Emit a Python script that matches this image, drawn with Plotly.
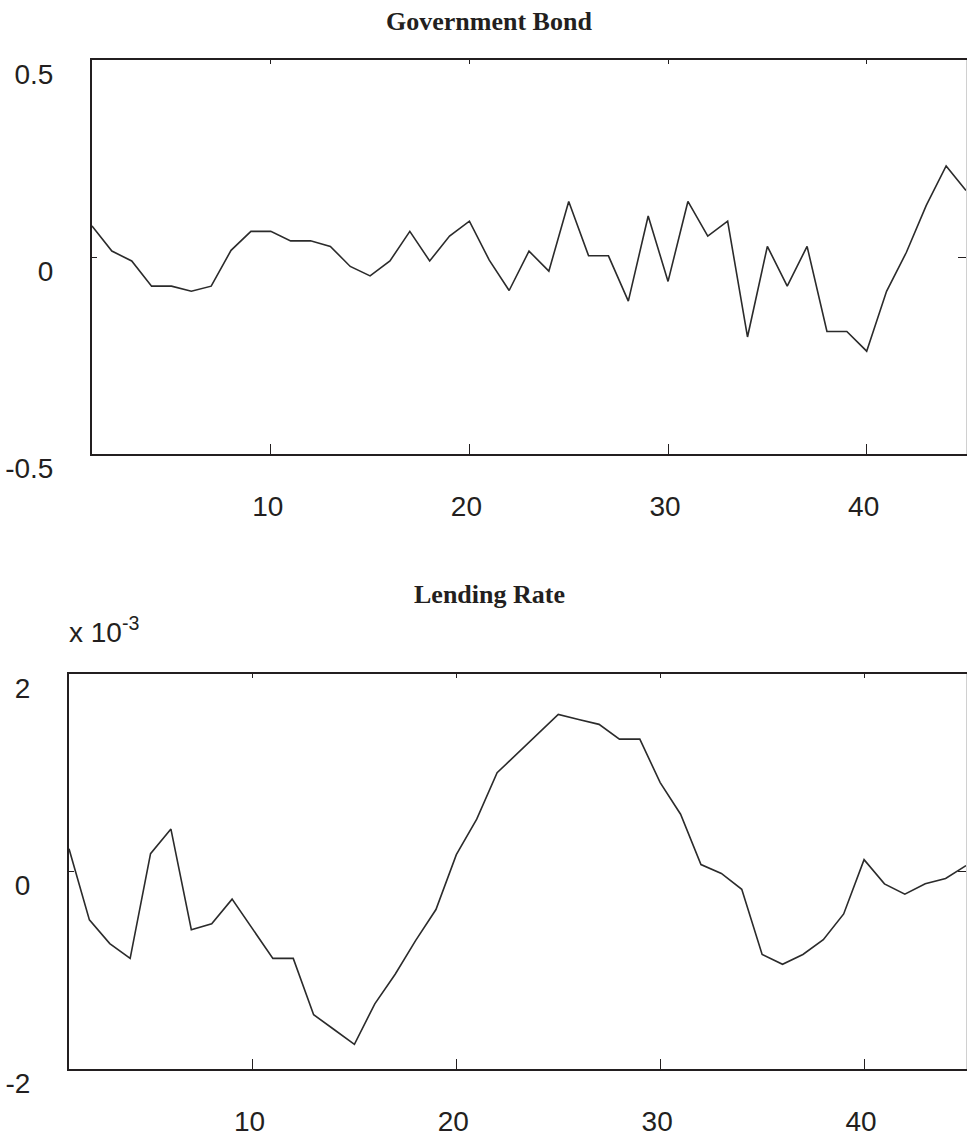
import plotly.graph_objects as go

periods = list(range(1, 46))
government_bond = [0.079, 0.015, -0.010, -0.074, -0.074, -0.087, -0.074, 0.017, 0.065, 0.065,
                   0.041, 0.041, 0.027, -0.024, -0.048, -0.010, 0.065, -0.010, 0.053, 0.091,
                   -0.008, -0.085, 0.015, -0.036, 0.141, 0.003, 0.003, -0.112, 0.104, -0.062,
                   0.141, 0.053, 0.091, -0.203, 0.027, -0.074, 0.027, -0.189, -0.189, -0.239,
                   -0.087, 0.012, 0.131, 0.231, 0.169]
# lending rate, in units of 1e-3
lending_rate_e3 = [0.23, -0.49, -0.73, -0.88, 0.18, 0.43, -0.59, -0.53, -0.28, -0.58,
                   -0.88, -0.88, -1.45, -1.60, -1.75, -1.34, -1.04, -0.70, -0.385, 0.17,
                   0.53, 1.00, 1.20, 1.40, 1.59, 1.54, 1.49, 1.34, 1.34, 0.90,
                   0.58, 0.07, -0.02, -0.18, -0.84, -0.94, -0.84, -0.69, -0.43, 0.12,
                   -0.125, -0.23, -0.125, -0.07, 0.06]
x_ticks = [10, 20, 30, 40]
gov_yticks = [-0.5, 0, 0.5]
gov_yticklabels = ["-0.5", "0", "0.5"]
lend_yticks = [-2, 0, 2]
lend_yticklabels = ["-2", "0", "2"]

W, H = 967, 1139
def px(v):
    return v / W
def py(v):
    return 1 - v / H

LINE = "#2b2b2b"
AX = "#231f20"
tickfont = dict(family="Liberation Sans, Arial, sans-serif", size=28, color="#231f20")

fig = go.Figure()
fig.add_trace(go.Scatter(x=periods, y=government_bond, mode="lines",
                         line=dict(color=LINE, width=1.6), xaxis="x", yaxis="y", showlegend=False))
fig.add_trace(go.Scatter(x=periods, y=lending_rate_e3, mode="lines",
                         line=dict(color=LINE, width=1.6), xaxis="x2", yaxis="y2", showlegend=False))
# invisible companions so that the framing (top / right) axes get drawn
fig.add_trace(go.Scatter(x=periods, y=government_bond, mode="lines", opacity=0,
                         line=dict(width=0), xaxis="x3", yaxis="y3", showlegend=False, hoverinfo="skip"))
fig.add_trace(go.Scatter(x=periods, y=lending_rate_e3, mode="lines", opacity=0,
                         line=dict(width=0), xaxis="x4", yaxis="y4", showlegend=False, hoverinfo="skip"))

def xaxis_main(domain, anchor):
    return dict(domain=domain, anchor=anchor, range=[1, 45], tickvals=x_ticks,
                ticktext=[str(t) for t in x_ticks], ticks="inside", ticklen=10, tickwidth=1.2,
                tickcolor=AX, showline=True, linecolor=AX, linewidth=2, showgrid=False,
                zeroline=False, tickfont=tickfont, ticklabelstandoff=26, ticklabelshift=-3,
                automargin=False)

def xaxis_top(overlay, anchor):
    return dict(overlaying=overlay, anchor=anchor, side="top", range=[1, 45], tickvals=x_ticks,
                showticklabels=False, ticks="inside", ticklen=4, tickwidth=1.2, tickcolor=AX,
                showline=True, linecolor=AX, linewidth=2, showgrid=False, zeroline=False,
                automargin=False)

def yaxis_main(domain, anchor, rng, vals, labels):
    return dict(domain=domain, anchor=anchor, range=rng, tickvals=vals, ticktext=labels,
                ticks="inside", ticklen=5, tickwidth=1.2, tickcolor=AX, showline=True,
                linecolor=AX, linewidth=2, showgrid=False, zeroline=False, tickfont=tickfont,
                ticklabelstandoff=31, ticklabelshift=14, automargin=False)

def yaxis_right(overlay, anchor, rng, vals):
    return dict(overlaying=overlay, anchor=anchor, side="right", range=rng, tickvals=vals,
                showticklabels=False, ticks="inside", ticklen=8, tickwidth=1.2, tickcolor=AX,
                showline=True, linecolor="#d0d0d0", linewidth=1, showgrid=False, zeroline=False,
                automargin=False)

fig.update_layout(
    width=W, height=H, margin=dict(l=0, r=0, t=0, b=0, pad=0, autoexpand=False),
    paper_bgcolor="white", plot_bgcolor="white", showlegend=False,
    xaxis=xaxis_main([px(92), px(966)], "y"),
    yaxis=yaxis_main([py(454), py(60)], "x", [-0.5, 0.5], gov_yticks, gov_yticklabels),
    xaxis3=xaxis_top("x", "y"),
    yaxis3=yaxis_right("y", "x", [-0.5, 0.5], gov_yticks),
    xaxis2=xaxis_main([px(69), px(966)], "y2"),
    yaxis2=yaxis_main([py(1069), py(674)], "x2", [-2, 2], lend_yticks, lend_yticklabels),
    xaxis4=xaxis_top("x2", "y2"),
    yaxis4=yaxis_right("y2", "x2", [-2, 2], lend_yticks),
)

titlefont = dict(family="Liberation Serif, Times New Roman, serif", size=26, color="#231f20")
fig.add_annotation(text="<b>Government Bond</b>", x=px(489), y=py(21), xref="paper", yref="paper",
                   xanchor="center", yanchor="middle", showarrow=False, font=titlefont)
fig.add_annotation(text="<b>Lending Rate</b>", x=px(489), y=py(594), xref="paper", yref="paper",
                   xanchor="center", yanchor="middle", showarrow=False, font=titlefont)
fig.add_annotation(text="x 10<sup>-3</sup>", x=px(67), y=py(630), xref="paper", yref="paper",
                   xanchor="left", yanchor="middle", showarrow=False, font=tickfont)

fig.write_html("out.html")
